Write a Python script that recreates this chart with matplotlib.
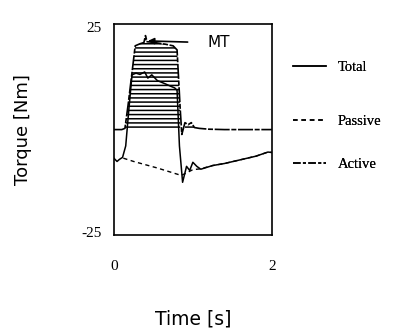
import matplotlib.pyplot as plt
from matplotlib.lines import Line2D

# Total torque
t_total = [0.0, 0.04, 0.07, 0.11, 0.15, 0.19, 0.23, 0.28, 0.33, 0.39, 0.43, 0.48,
           0.55, 0.65, 0.72, 0.77, 0.80, 0.83, 0.87, 0.92, 0.96, 1.00, 1.05, 1.10,
           1.15, 1.25, 1.40, 1.60, 1.80, 1.95, 2.0]
total = [-7.0, -7.8, -7.3, -6.8, -4.0, 5.0, 13.4, 13.8, 13.5, 14.1, 12.6, 13.4,
         12.0, 11.2, 10.6, 10.2, 9.6, -4.0, -12.9, -9.0, -10.0, -8.0, -9.0, -9.7,
         -9.4, -8.8, -8.3, -7.4, -6.5, -5.5, -5.6]

# Passive torque
t_passive = [0.12, 0.25, 0.40, 0.55, 0.70, 0.85, 0.90, 1.00, 1.10, 1.25, 1.40,
             1.60, 1.80, 1.95, 2.0]
passive = [-7.0, -7.8, -8.6, -9.4, -10.3, -11.2, -10.8, -9.8, -9.6, -8.8, -8.3,
           -7.4, -6.5, -5.5, -5.6]

# Active torque
t_active = [0.0, 0.10, 0.14, 0.18, 0.23, 0.27, 0.33, 0.38, 0.40, 0.42, 0.48,
            0.55, 0.65, 0.75, 0.80, 0.84, 0.86, 0.90, 0.94, 0.98, 1.02, 1.08,
            1.20, 1.40, 2.0]
active = [0.0, 0.0, 0.3, 6.0, 14.0, 20.5, 21.0, 21.3, 23.0, 21.5, 21.4,
          21.2, 20.9, 20.5, 19.5, 5.0, -1.2, 1.7, 1.2, 1.7, 0.5, 0.3,
          0.1, 0.0, 0.0]

serif = "Liberation Serif"
sans = "DejaVu Sans"
plt.rcParams["hatch.linewidth"] = 1.1

fig = plt.figure(figsize=(3.94, 3.31), dpi=100)
ax = fig.add_axes([0.289, 0.290, 0.401, 0.637])

ax.fill_between(t_active, 0, active, where=[a > 0 for a in active],
                facecolor="none", edgecolor="black", hatch="----", linewidth=0)
ax.plot(t_total, total, color="black", lw=1.1, label="Total")
ax.plot(t_passive, passive, color="black", lw=1.0, ls=(0, (3, 2.5)), label="Passive")
ax.plot(t_active, active, color="black", lw=1.2, ls=(0, (9, 1, 3, 1)), label="Active")

ax.annotate("MT", xy=(0.43, 21.7), xytext=(1.18, 21.2), fontsize=11, family=sans,
            va="center", ha="left",
            arrowprops=dict(arrowstyle="-|>", color="black", lw=1.2,
                            shrinkA=12, shrinkB=0, mutation_scale=9))

ax.set_xlim(0, 2)
ax.set_ylim(-25.8, 25.8)
ax.set_xticks([0, 2])
ax.set_yticks([-25, 25])
ax.set_xticklabels(["0", "2"], family=serif, fontsize=11)
ax.set_yticklabels(["-25", "25"], family=serif, fontsize=11)
ax.tick_params(length=0)
ax.tick_params(axis="x", pad=18)
ax.tick_params(axis="y", pad=9)
for s in ax.spines.values():
    s.set_linewidth(1.2)

ax.set_ylabel("Torque [Nm]", family=sans, fontsize=13, labelpad=35)
ax.set_xlabel("Time [s]", family=sans, fontsize=13.5, labelpad=26)

# legend entries, one per series, placed beside the axes
dashes = [None, (3, 2.5), (5, 1.5, 2, 1.5)]
ys = [0.795, 0.632, 0.502]
for ln, d, y in zip(ax.get_lines(), dashes, ys):
    h = Line2D([], [], color="black", lw=1.1)
    if d:
        h.set_dashes(d)
    leg = fig.legend([h], [ln.get_label()], loc="center left",
                     bbox_to_anchor=(0.71, y), frameon=False,
                     prop={"family": serif, "size": 10.5},
                     handlelength=2.3, handletextpad=0.8)
    fig.add_artist(leg)

fig.savefig("out.png", dpi=100)
